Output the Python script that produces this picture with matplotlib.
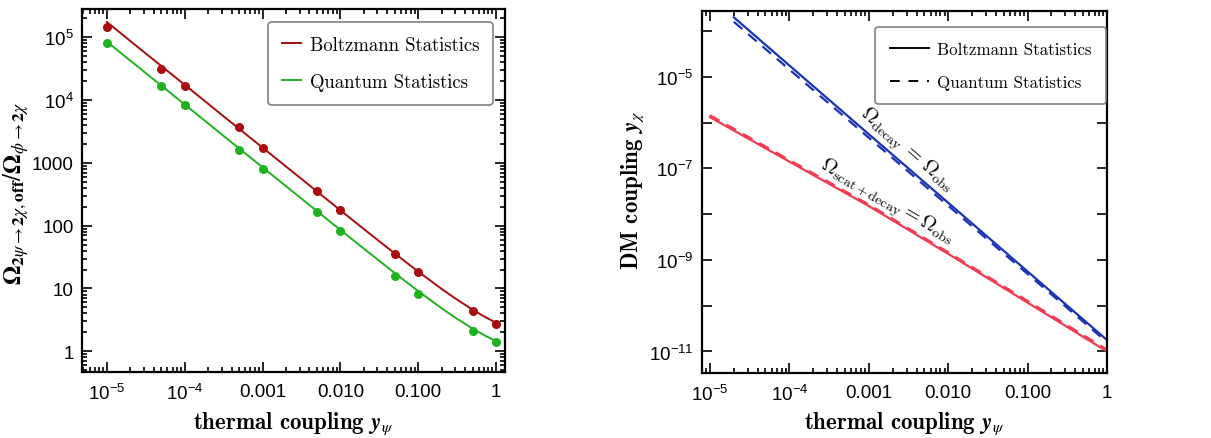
import matplotlib
matplotlib.use("Agg")
import matplotlib.pyplot as plt
import numpy as np
from matplotlib.ticker import FixedLocator, FixedFormatter, LogLocator, NullLocator, NullFormatter
from matplotlib.font_manager import FontProperties

plt.rcParams['mathtext.fontset'] = 'custom'
plt.rcParams['mathtext.rm'] = 'Liberation Sans'
plt.rcParams['mathtext.it'] = 'Liberation Sans:italic'
plt.rcParams['mathtext.bf'] = 'Liberation Sans:bold'
plt.rcParams['font.family'] = 'Liberation Sans'

# ---------------- data: left panel ----------------
yp_points = [1e-5, 5e-5, 1e-4, 5e-4, 1e-3, 5e-3, 1e-2, 5e-2, 1e-1, 5e-1, 1.0]
boltz_points = [1.45e5, 3.1e4, 1.7e4, 3.7e3, 1.74e3, 360, 180, 35, 18, 4.3, 2.7]
quant_points = [8.0e4, 1.65e4, 8.2e3, 1.6e3, 800, 165, 82, 16, 8.3, 2.1, 1.43]

yp_curve = [1e-5, 3e-5, 1e-4, 3e-4, 1e-3, 3e-3, 1e-2, 2e-2, 5e-2, 0.1, 0.2, 0.3, 0.5, 0.7, 1.0]
boltz_curve = [1.75e5, 5.8e4, 1.75e4, 5.8e3, 1.75e3, 585, 176, 88.6, 36.1, 18.6, 9.85, 6.93, 4.6, 3.6, 2.85]
quant_curve = [8.5e4, 2.83e4, 8.5e3, 2.83e3, 850, 284, 85.6, 43.1, 17.6, 9.1, 4.85, 3.43, 2.3, 1.81, 1.45]

left_xticks = [1e-5, 1e-4, 1e-3, 1e-2, 1e-1, 1]
left_xlabels = [r'$10^{-5}$', r'$10^{-4}$', '0.001', '0.010', '0.100', '1']
left_yticks = [1, 10, 100, 1000, 1e4, 1e5]
left_ylabels = ['1', '10', '100', '1000', r'$10^{4}$', r'$10^{5}$']

# ---------------- data: right panel ----------------
yp_decay = [2e-5, 1e-4, 1e-3, 1e-2, 1e-1, 1.0]
decay_boltz = [2.0e-4, 1.78e-5, 5.6e-7, 1.78e-8, 5.6e-10, 1.78e-11]
decay_quant = [1.6e-4, 1.45e-5, 4.7e-7, 1.53e-8, 4.95e-10, 1.6e-11]

yp_scat = [1e-5, 1e-4, 1e-3, 1e-2, 1e-1, 1.0]
scat_boltz = [1.32e-6, 1.41e-7, 1.51e-8, 1.36e-9, 1.17e-10, 1.0e-11]
scat_quant = [1.45e-6, 1.53e-7, 1.63e-8, 1.47e-9, 1.27e-10, 1.1e-11]

right_xticks = [1e-5, 1e-4, 1e-3, 1e-2, 1e-1, 1]
right_xlabels = [r'$10^{-5}$', r'$10^{-4}$', '0.001', '0.010', '0.100', '1']
right_yticks = [1e-11, 1e-10, 1e-9, 1e-8, 1e-7, 1e-6, 1e-5, 1e-4]
right_ylabels = [r'$10^{-11}$', '', r'$10^{-9}$', '', r'$10^{-7}$', '', r'$10^{-5}$', '']

c_red = '#a80c0c'
c_green = '#1fb21f'
c_blue = '#1833b5'
c_pink = '#f23b52'

W, H = 1211, 439
fig = plt.figure(figsize=(W / 100, H / 100), dpi=100)

def box(x0, y0, x1, y1):
    return [x0 / W, 1 - y1 / H, (x1 - x0) / W, (y1 - y0) / H]

axL = fig.add_axes(box(82, 10, 505, 373))
axR = fig.add_axes(box(702, 12, 1107, 374))

tickfs = 13.5
labfont = dict(fontfamily='cmb10', math_fontfamily='stix', fontsize=16.5)

def style(ax):
    for s in ax.spines.values():
        s.set_linewidth(1.6)
    ax.tick_params(which='both', direction='in', top=True, right=True, labelsize=tickfs, width=1.2)
    ax.tick_params(which='major', length=7)
    ax.tick_params(which='minor', length=3.5)
    ax.tick_params(axis='x', pad=8)
    ax.tick_params(axis='y', pad=6)

# ---- left ----
axL.set_xscale('log'); axL.set_yscale('log')
axL.plot(yp_curve, boltz_curve, color=c_red, lw=1.4, label='Boltzmann Statistics')
axL.plot(yp_curve, quant_curve, color=c_green, lw=1.4, label='Quantum Statistics')
axL.plot(yp_points, boltz_points, 'o', color=c_red, ms=6.5, mew=0)
axL.plot(yp_points, quant_points, 'o', color=c_green, ms=6.5, mew=0)
axL.set_xlim(10**-5.32, 10**0.116)
axL.set_ylim(10**-0.33, 10**5.45)
axL.xaxis.set_major_locator(FixedLocator(left_xticks))
axL.xaxis.set_major_formatter(FixedFormatter(left_xlabels))
axL.xaxis.set_minor_locator(LogLocator(base=10, subs=np.arange(2, 10), numticks=20))
axL.xaxis.set_minor_formatter(NullFormatter())
axL.yaxis.set_major_locator(FixedLocator(left_yticks))
axL.yaxis.set_major_formatter(FixedFormatter(left_ylabels))
axL.yaxis.set_minor_locator(LogLocator(base=10, subs=np.arange(2, 10), numticks=20))
axL.yaxis.set_minor_formatter(NullFormatter())
style(axL)
axL.set_xlabel(r'thermal coupling $\mathbfit{y}_{\psi}$', **labfont)
axL.xaxis.set_label_coords(0.5, -0.102)
ylab_font = dict(labfont); ylab_font['fontsize'] = 18
axL.set_ylabel(r'$\mathbf{\Omega}_{\mathbf{2}\psi\rightarrow \mathbf{2}\chi,\mathbf{off}}/\mathbf{\Omega}_{\phi\rightarrow \mathbf{2}\chi}$',
               **ylab_font)
axL.yaxis.set_label_coords(-0.12, 0.496)
legL = axL.legend(loc='upper right', bbox_to_anchor=(0.972, 0.964), borderaxespad=0,
                  prop=FontProperties(family='cmr10', size=13.5), handlelength=1.0,
                  labelspacing=1.0, borderpad=0.75, handletextpad=0.45, fancybox=True,
                  framealpha=1, edgecolor='#808080')
legL.get_frame().set_linewidth(1.2)

# ---- right ----
axR.set_xscale('log'); axR.set_yscale('log')
axR.plot(yp_decay, decay_boltz, color=c_blue, lw=1.6)
axR.plot(yp_decay, decay_quant, color=c_blue, lw=1.6, dashes=(5, 3.5))
axR.plot(yp_scat, scat_boltz, color=c_pink, lw=1.6)
axR.plot(yp_scat, scat_quant, color=c_pink, lw=1.6, dashes=(5, 3.5))
axR.plot([], [], color='black', lw=1.4, label='Boltzmann Statistics')
axR.plot([], [], color='black', lw=1.4, dashes=(5, 4.5), label='Quantum Statistics')
axR.set_xlim(10**-5.1, 1)
axR.set_ylim(10**-11.47, 10**-3.56)
axR.xaxis.set_major_locator(FixedLocator(right_xticks))
axR.xaxis.set_major_formatter(FixedFormatter(right_xlabels))
axR.xaxis.set_minor_locator(LogLocator(base=10, subs=np.arange(2, 10), numticks=20))
axR.xaxis.set_minor_formatter(NullFormatter())
axR.yaxis.set_major_locator(FixedLocator(right_yticks))
axR.yaxis.set_major_formatter(FixedFormatter(right_ylabels))
axR.yaxis.set_minor_locator(NullLocator())
style(axR)
axR.set_xlabel(r'thermal coupling $\mathbfit{y}_{\psi}$', **labfont)
axR.xaxis.set_label_coords(0.5, -0.10)
axR.set_ylabel(r'DM coupling $\mathbfit{y}_{\chi}$', **labfont)
axR.yaxis.set_label_coords(-0.138, 0.508)
legR = axR.legend(loc='upper right', bbox_to_anchor=(0.998, 0.956), borderaxespad=0,
                  prop=FontProperties(family='cmr10', size=12.2), handlelength=2.3,
                  labelspacing=1.05, borderpad=0.85, handletextpad=0.5, fancybox=True,
                  framealpha=1, edgecolor='#808080')
legR.get_frame().set_linewidth(1.2)

axR.text(3.0e-3, 2.6e-7, r'$\Omega_{\rm decay}\, =\, \Omega_{\rm obs}$', rotation=-41,
         ha='center', va='center', rotation_mode='anchor', fontsize=14.5, math_fontfamily='cm')
axR.text(1.7e-3, 1.9e-8, r'$\Omega_{\rm scat+decay} = \Omega_{\rm obs}$', rotation=-30,
         ha='center', va='center', rotation_mode='anchor', fontsize=14.5, math_fontfamily='cm')

fig.savefig('out.png', dpi=100)
